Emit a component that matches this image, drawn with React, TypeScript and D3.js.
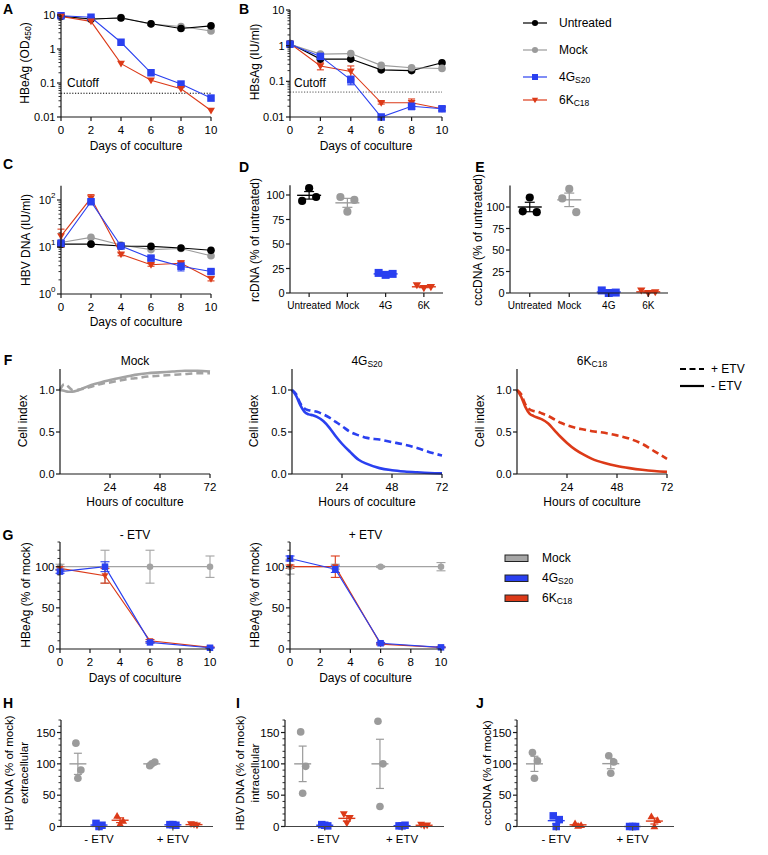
import React from "react";
import * as d3 from "d3";

const FONT = "'Liberation Sans', Arial, Helvetica, sans-serif";
const C_BLACK = "#000000";
const C_GRAY = "#9b9b9b";
const C_BLUE = "#2a40f0";
const C_RED = "#dc3a18";
const C_AXIS = "#1a1a1a";

// ---------------- DATA ----------------
const days = [0, 2, 4, 6, 8, 10];
const aUntreated = [9.2, 7.6, 8.2, 5.5, 4.0, 4.8];
const aMock = [9.0, 7.4, 8.4, 5.4, 4.6, 3.4];
const a4G = [9.5, 8.6, 1.58, 0.2, 0.093, 0.036];
const a6K = [9.0, 6.5, 0.37, 0.12, 0.068, 0.0155];
const cutoffA = 0.05;

const bUntreated = [1.15, 0.42, 0.42, 0.21, 0.2, 0.33];
const bMock = [1.1, 0.58, 0.6, 0.28, 0.24, 0.23];
const b4G = [1.1, 0.5, 0.11, 0.01, 0.02, 0.017];
const b6K = [1.15, 0.27, 0.19, 0.025, 0.025, 0.017];
const b4GErr = [0.1, 0.03, 0.03, 0, 0.004, 0.002];
const b6KErr = [0.1, 0.06, 0.08, 0.002, 0.007, 0.002];
const cutoffB = 0.05;

const cUntreated = [11.5, 11.5, 10.5, 10.3, 9.5, 8.5];
const cMock = [12.5, 16, 11, 8.8, 9.3, 6.5];
const c4G = [12, 92, 10.5, 5.8, 3.9, 3.0];
const c6K = [17, 110, 7, 4.2, 4.5, 2.1];
const cUntreatedErr = [1.5, 0.5, 0, 0, 0, 0];
const c4GErr = [1.5, 8, 0.5, 0.5, 0.8, 0.3];
const c6KErr = [7, 20, 0.5, 0.3, 0.6, 0.2];

const deCategories = ["Untreated", "Mock", "4G", "6K"];
const dUntreated = [94, 107, 98];
const dMock = [98, 83, 95];
const d4G = [20.5, 18.5, 19.5];
const d6K = [8, 5, 6];
const eUntreated = [95, 111, 94];
const eMock = [110, 121, 94];
const e4G = [3, 0, 0.5];
const e6K = [3, 0, 1];

const fHours = [0, 2, 4, 6, 8, 10, 12, 15, 18, 21, 24, 28, 32, 36, 42, 48, 54, 60, 66, 72];
const fMockMinus = [1.0, 0.99, 0.98, 0.98, 0.99, 1.01, 1.03, 1.06, 1.08, 1.1, 1.12, 1.14, 1.16, 1.18, 1.2, 1.21, 1.22, 1.23, 1.23, 1.22];
const fMockPlus = [1.0, 1.07, 1.04, 1.0, 1.0, 1.01, 1.02, 1.04, 1.06, 1.08, 1.09, 1.11, 1.13, 1.14, 1.16, 1.17, 1.18, 1.19, 1.2, 1.2];
const f4GMinus = [1.0, 0.93, 0.82, 0.74, 0.71, 0.7, 0.68, 0.63, 0.55, 0.45, 0.36, 0.26, 0.17, 0.12, 0.07, 0.045, 0.03, 0.02, 0.012, 0.008];
const f4GPlus = [1.0, 0.95, 0.84, 0.78, 0.76, 0.75, 0.74, 0.71, 0.67, 0.62, 0.57, 0.5, 0.46, 0.43, 0.41, 0.38, 0.35, 0.31, 0.26, 0.22];
const f6KMinus = [1.0, 0.92, 0.8, 0.72, 0.69, 0.67, 0.65, 0.6, 0.52, 0.44, 0.37, 0.29, 0.23, 0.18, 0.13, 0.095, 0.07, 0.05, 0.035, 0.025];
const f6KPlus = [1.0, 0.95, 0.83, 0.77, 0.75, 0.74, 0.72, 0.69, 0.65, 0.61, 0.58, 0.55, 0.53, 0.51, 0.49, 0.46, 0.42, 0.36, 0.27, 0.18];

const gDays = [0, 3, 6, 10];
const gMinusMock = [100, 100, 100, 100];
const gMinusMockErr = [3, 20, 20, 13];
const gMinus4G = [94, 100, 8, 1.5];
const gMinus4GErr = [2, 6, 1, 0.5];
const gMinus6K = [98, 89, 10, 2];
const gMinus6KErr = [2, 9, 1.5, 0.5];
const gPlusMock = [100, 100, 100, 100];
const gPlusMockErr = [9, 3, 1, 5];
const gPlus4G = [110, 97, 7, 2];
const gPlus4GErr = [3, 4, 1, 0.5];
const gPlus6K = [100, 100, 6, 2];
const gPlus6KErr = [2, 13, 1, 0.5];

const etvConditions = ["- ETV", "+ ETV"];
const hMinusMock = [133, 90, 77];
const hMinus4G = [5, 2, 0];
const hMinus6K = [17, 9, 4];
const hPlusMock = [97, 103, 100];
const hPlus4G = [3, 2, 3];
const hPlus6K = [4, 2, 3];
const iMinusMock = [151, 96, 53];
const iMinus4G = [3, 1, 2];
const iMinus6K = [20, 14, 5];
const iPlusMock = [168, 100, 32];
const iPlus4G = [1, 2, 1];
const iPlus6K = [3, 2, 1];
const jMinusMock = [118, 105, 77];
const jMinus4G = [17, 11, 0];
const jMinus6K = [5, 2, 1];
const jPlusMock = [113, 103, 85];
const jPlus4G = [0, 0, 0];
const jPlus6K = [16, 10, 0];

// ---------------- HELPERS ----------------
type Shape = "circle" | "square" | "triDown" | "triUp";

function Marker({ shape, x, y, size = 7.5, fill }: { shape: Shape; x: number; y: number; size?: number; fill: string }) {
  const h = size / 2;
  if (shape === "circle") return <circle cx={x} cy={y} r={h * 1.02} fill={fill} />;
  if (shape === "square") return <rect x={x - h} y={y - h} width={size} height={size} fill={fill} />;
  if (shape === "triDown")
    return <polygon points={`${x - h * 1.05},${y - h * 0.75} ${x + h * 1.05},${y - h * 0.75} ${x},${y + h * 1.05}`} fill={fill} />;
  return <polygon points={`${x - h * 1.05},${y + h * 0.75} ${x + h * 1.05},${y + h * 0.75} ${x},${y - h * 1.05}`} fill={fill} />;
}

function ErrBar({ x, y1, y2, color, cap = 3.5, w = 1.1 }: { x: number; y1: number; y2: number; color: string; cap?: number; w?: number }) {
  return (
    <g stroke={color} strokeWidth={w}>
      <line x1={x} x2={x} y1={y1} y2={y2} />
      <line x1={x - cap} x2={x + cap} y1={y1} y2={y1} />
      <line x1={x - cap} x2={x + cap} y1={y2} y2={y2} />
    </g>
  );
}

function YAxis({ x, scale, ticks, labels, minor = [], fontSize = 11, tickLen = 4, minorLen = 2.5 }: any) {
  const [r0, r1] = scale.range();
  return (
    <g>
      <line x1={x} x2={x} y1={r1} y2={r0} stroke={C_AXIS} strokeWidth={1.2} />
      {minor.map((v: number, i: number) => (
        <line key={"m" + i} x1={x - minorLen} x2={x} y1={scale(v)} y2={scale(v)} stroke={C_AXIS} strokeWidth={0.9} />
      ))}
      {ticks.map((v: number, i: number) => (
        <g key={i}>
          <line x1={x - tickLen} x2={x} y1={scale(v)} y2={scale(v)} stroke={C_AXIS} strokeWidth={1.2} />
          <text x={x - tickLen - 1.5} y={scale(v)} textAnchor="end" dominantBaseline="central" fontSize={fontSize}>
            {labels ? labels[i] : String(v)}
          </text>
        </g>
      ))}
    </g>
  );
}

function XAxis({ y, x0, x1, pos, labels, fontSize = 11.5, tickLen = 4, color = C_AXIS }: any) {
  return (
    <g>
      <line x1={x0} x2={x1} y1={y} y2={y} stroke={color} strokeWidth={1.2} />
      {pos.map((p: number, i: number) => (
        <g key={i}>
          <line x1={p} x2={p} y1={y} y2={y + tickLen} stroke={color} strokeWidth={1.2} />
          <text x={p} y={y + 12.5} textAnchor="middle" dominantBaseline="central" fontSize={fontSize}>
            {labels[i]}
          </text>
        </g>
      ))}
    </g>
  );
}

function logMinor(min: number, max: number) {
  const out: number[] = [];
  for (let d = Math.floor(Math.log10(min)); d <= Math.ceil(Math.log10(max)); d++) {
    for (let k = 2; k <= 9; k++) {
      const v = k * Math.pow(10, d);
      if (v > min && v < max) out.push(v);
    }
  }
  return out;
}

function linMinor(step: number, max: number, major: number) {
  return d3.range(0, max + 0.001, step).filter((v) => v % major !== 0);
}

function RotLabel({ x, y, children, fontSize = 12 }: any) {
  return (
    <text transform={`translate(${x},${y}) rotate(-90)`} textAnchor="middle" dominantBaseline="central" fontSize={fontSize}>
      {children}
    </text>
  );
}

function Letter({ x, y, t }: any) {
  return (
    <text x={x} y={y} textAnchor="middle" dominantBaseline="central" fontSize={14} fontWeight="bold">
      {t}
    </text>
  );
}

function Sub({ main, sub, size = 8.5 }: any) {
  return (
    <>
      {main}
      <tspan fontSize={size} dy={3}>
        {sub}
      </tspan>
    </>
  );
}

type Series = { values: number[]; color: string; shape: Shape; err?: number[] };

function Lines({ xs, xScale, yScale, series, lw = 1.1, ms = 7.5, cap = 3.5 }: any) {
  const line = d3.line<number>().x((_, i) => xScale(xs[i])).y((d) => yScale(d));
  return (
    <g>
      {series.map((s: Series, k: number) => (
        <path key={"l" + k} d={line(s.values) || ""} fill="none" stroke={s.color} strokeWidth={lw} />
      ))}
      {series.map((s: Series, k: number) =>
        s.err
          ? s.values.map((v, i) =>
              s.err![i] > 0 ? (
                <ErrBar key={"e" + k + "-" + i} x={xScale(xs[i])} y1={yScale(v + s.err![i])} y2={yScale(Math.max(v - s.err![i], yScale.domain()[0]))} color={s.color} cap={cap} />
              ) : null
            )
          : null
      )}
      {series.map((s: Series, k: number) =>
        s.values.map((v, i) => <Marker key={"p" + k + "-" + i} shape={s.shape} x={xScale(xs[i])} y={yScale(v)} size={ms} fill={s.color} />)
      )}
    </g>
  );
}

function Dots({ x, values, yScale, color, shape, jitter, meanHalf, capHalf, ms = 7.5 }: any) {
  const m = d3.mean(values) as number;
  const sd = d3.deviation(values) || 0;
  const sem = sd / Math.sqrt(values.length);
  return (
    <g>
      {values.map((v: number, i: number) => (
        <Marker key={i} shape={shape} x={x + jitter[i % jitter.length]} y={yScale(v)} size={ms} fill={color} />
      ))}
      <line x1={x - meanHalf} x2={x + meanHalf} y1={yScale(m)} y2={yScale(m)} stroke={color} strokeWidth={1.4} />
      <line x1={x} x2={x} y1={yScale(m + sem)} y2={yScale(Math.max(0, m - sem))} stroke={color} strokeWidth={1.2} />
      <line x1={x - capHalf} x2={x + capHalf} y1={yScale(m + sem)} y2={yScale(m + sem)} stroke={color} strokeWidth={1.2} />
      <line x1={x - capHalf} x2={x + capHalf} y1={yScale(Math.max(0, m - sem))} y2={yScale(Math.max(0, m - sem))} stroke={color} strokeWidth={1.2} />
    </g>
  );
}

// ---------------- PANELS ----------------
function FPanel({ x0, title, minus, plus, color, yLabelX }: any) {
  const xs = d3.scaleLinear().domain([0, 72]).range([x0, x0 + 150]);
  const ys = d3.scaleLinear().domain([0, 1.25]).range([474, 369]);
  const line = d3
    .line<number>()
    .x((_, i) => xs(fHours[i]))
    .y((d) => ys(d))
    .curve(d3.curveMonotoneX);
  return (
    <g>
      <text x={x0 + 75} y={361} textAnchor="middle" dominantBaseline="central" fontSize={12}>
        {title}
      </text>
      <path d={line(plus) || ""} fill="none" stroke={color} strokeWidth={2.6} strokeDasharray="7,4" />
      <path d={line(minus) || ""} fill="none" stroke={color} strokeWidth={2.6} />
      <YAxis x={x0} scale={ys} ticks={[0, 0.5, 1.0]} labels={["0.0", "0.5", "1.0"]} fontSize={11} />
      <XAxis y={474} x0={x0} x1={x0 + 150} pos={[24, 48, 72].map(xs)} labels={["24", "48", "72"]} />
      <text x={x0 + 75} y={502} textAnchor="middle" dominantBaseline="central" fontSize={12}>
        Hours of coculture
      </text>
      <RotLabel x={yLabelX} y={421}>
        Cell index
      </RotLabel>
    </g>
  );
}

function GPanel({ x0, x1, title, series, yLabelX }: any) {
  const xs = d3.scaleLinear().domain([0, 10]).range([x0, x1]);
  const ys = d3.scaleLinear().domain([0, 130]).range([649, 542]);
  return (
    <g>
      <text x={(x0 + x1) / 2} y={535} textAnchor="middle" dominantBaseline="central" fontSize={12}>
        {title}
      </text>
      <Lines xs={gDays} xScale={xs} yScale={ys} series={series} lw={1.2} ms={6.5} cap={4.5} />
      <YAxis x={x0} scale={ys} ticks={[0, 50, 100]} minor={linMinor(10, 130, 50)} fontSize={11.5} />
      <XAxis y={649} x0={x0} x1={x1} pos={days.map(xs)} labels={days.map(String)} />
      <text x={(x0 + x1) / 2} y={678} textAnchor="middle" dominantBaseline="central" fontSize={12}>
        Days of coculture
      </text>
      <RotLabel x={yLabelX} y={595}>
        HBeAg (% of mock)
      </RotLabel>
    </g>
  );
}

function HPanel({ x0, x1, data, triMinus, triPlus, label1, label2, l1x, l2x }: any) {
  const xs = d3.scaleLinear().domain([-0.8, 6.4]).range([x0, x1]);
  const ys = d3.scaleLinear().domain([0, 170]).range([826.5, 720]);
  const colors = [C_GRAY, C_BLUE, C_RED];
  const jit = [[-2, 3, 0], [-3, 3, 0], [-3, 3, 0]];
  return (
    <g>
      {data.map((cond: number[][], c: number) =>
        cond.map((vals: number[], t: number) => (
          <Dots
            key={c + "-" + t}
            x={xs(t + c * 3.5)}
            values={vals}
            yScale={ys}
            color={colors[t]}
            shape={t === 0 ? "circle" : t === 1 ? "square" : c === 0 ? triMinus : triPlus}
            jitter={jit[t]}
            meanHalf={8.5}
            capHalf={4}
            ms={7.5}
          />
        ))
      )}
      <YAxis x={x0} scale={ys} ticks={[0, 50, 100, 150]} minor={linMinor(10, 170, 50)} fontSize={11.5} />
      <XAxis y={826.5} x0={x0} x1={x1} pos={[xs(1), xs(4.5)]} labels={etvConditions} color="#444" />
      <RotLabel x={l1x} y={773} fontSize={11.5}>
        {label1}
      </RotLabel>
      {label2 ? (
        <RotLabel x={l2x} y={773} fontSize={11.5}>
          {label2}
        </RotLabel>
      ) : null}
    </g>
  );
}

function DEPanel({ x0, x1, yMax, pxPerUnit, values, label, labelX }: any) {
  const xs = d3.scalePoint<string>().domain(deCategories).range([x0, x1]).padding(0.5);
  const ys = d3.scaleLinear().domain([0, yMax]).range([293, 293 - pxPerUnit * yMax]);
  const colors = [C_BLACK, C_GRAY, C_BLUE, C_RED];
  const shapes: Shape[] = ["circle", "circle", "square", "triDown"];
  return (
    <g>
      {values.map((vals: number[], i: number) => (
        <Dots key={i} x={xs(deCategories[i])!} values={vals} yScale={ys} color={colors[i]} shape={shapes[i]} jitter={[-7, 0, 7]} meanHalf={12} capHalf={5} ms={8} />
      ))}
      <YAxis x={x0} scale={ys} ticks={[0, 25, 50, 75, 100]} fontSize={11} />
      <XAxis y={293} x0={x0} x1={x1} pos={deCategories.map((c) => xs(c)!)} labels={deCategories} fontSize={10} />
      <RotLabel x={labelX} y={240} fontSize={12}>
        {label}
      </RotLabel>
    </g>
  );
}

export default function App() {
  // A
  const xA = d3.scaleLinear().domain([0, 10]).range([61, 211]);
  const yA = d3.scaleLog().domain([0.01, 10]).range([117, 15]);
  // B
  const xB = d3.scaleLinear().domain([0, 10]).range([290, 442]);
  const yB = d3.scaleLog().domain([0.01, 10]).range([117, 10]);
  // C
  const xC = d3.scaleLinear().domain([0, 10]).range([61, 211]);
  const yC = d3.scaleLog().domain([1, 200]).range([294, 294 - 47 * Math.log10(200)]);

  const seriesA: Series[] = [
    { values: aMock, color: C_GRAY, shape: "circle" },
    { values: aUntreated, color: C_BLACK, shape: "circle" },
    { values: a4G, color: C_BLUE, shape: "square" },
    { values: a6K, color: C_RED, shape: "triDown" },
  ];
  const seriesB: Series[] = [
    { values: bUntreated, color: C_BLACK, shape: "circle" },
    { values: bMock, color: C_GRAY, shape: "circle" },
    { values: b6K, color: C_RED, shape: "triDown", err: b6KErr },
    { values: b4G, color: C_BLUE, shape: "square", err: b4GErr },
  ];
  const seriesC: Series[] = [
    { values: cMock, color: C_GRAY, shape: "circle" },
    { values: cUntreated, color: C_BLACK, shape: "circle", err: cUntreatedErr },
    { values: c6K, color: C_RED, shape: "triDown", err: c6KErr },
    { values: c4G, color: C_BLUE, shape: "square", err: c4GErr },
  ];

  const legendItems = [
    { label: "Untreated", color: C_BLACK, shape: "circle" as Shape, sub: "" },
    { label: "Mock", color: C_GRAY, shape: "circle" as Shape, sub: "" },
    { label: "4G", color: C_BLUE, shape: "square" as Shape, sub: "S20" },
    { label: "6K", color: C_RED, shape: "triDown" as Shape, sub: "C18" },
  ];
  const legendY = [23, 50, 77, 100];

  const gLegend = [
    { label: "Mock", sub: "", color: "#a6a6a6" },
    { label: "4G", sub: "S20", color: C_BLUE },
    { label: "6K", sub: "C18", color: C_RED },
  ];

  return (
    <svg width={768} height={855} fontFamily={FONT} style={{ position: "absolute", left: 0, top: 0, display: "block" }}>
      <rect width={768} height={855} fill="#fff" />

      {/* Panel letters */}
      <Letter x={8} y={9} t="A" />
      <Letter x={244} y={9} t="B" />
      <Letter x={8} y={164} t="C" />
      <Letter x={244} y={167} t="D" />
      <Letter x={480} y={167} t="E" />
      <Letter x={8} y={360} t="F" />
      <Letter x={8} y={535} t="G" />
      <Letter x={8} y={703} t="H" />
      <Letter x={238} y={703} t="I" />
      <Letter x={480} y={703} t="J" />

      {/* Panel A */}
      <line x1={xA(0)} x2={xA(10)} y1={yA(cutoffA)} y2={yA(cutoffA)} stroke="#000" strokeWidth={1} strokeDasharray="1.2,1.6" />
      <text x={67} y={83} fontSize={12} dominantBaseline="central">
        Cutoff
      </text>
      <Lines xs={days} xScale={xA} yScale={yA} series={seriesA} />
      <YAxis x={61} scale={yA} ticks={[0.01, 0.1, 1, 10]} labels={["0.01", "0.1", "1", "10"]} minor={logMinor(0.01, 10)} />
      <XAxis y={117} x0={61} x1={211} pos={days.map(xA)} labels={days.map(String)} />
      <text x={136} y={146} textAnchor="middle" dominantBaseline="central" fontSize={12}>
        Days of coculture
      </text>
      <RotLabel x={25} y={63}>
        HBeAg (OD<tspan fontSize={8.5} dy={3}>450</tspan>
        <tspan dy={-3}>)</tspan>
      </RotLabel>

      {/* Panel B */}
      <line x1={xB(0)} x2={xB(10)} y1={yB(cutoffB)} y2={yB(cutoffB)} stroke="#555" strokeWidth={1} strokeDasharray="1.2,1.6" />
      <text x={294} y={83} fontSize={12} dominantBaseline="central">
        Cutoff
      </text>
      <Lines xs={days} xScale={xB} yScale={yB} series={seriesB} />
      <YAxis x={290} scale={yB} ticks={[0.01, 0.1, 1, 10]} labels={["0.01", "0.1", "1", "10"]} minor={logMinor(0.01, 10)} />
      <XAxis y={117} x0={290} x1={442} pos={days.map(xB)} labels={days.map(String)} />
      <text x={366} y={146} textAnchor="middle" dominantBaseline="central" fontSize={12}>
        Days of coculture
      </text>
      <RotLabel x={255} y={62}>
        HBsAg (IU/ml)
      </RotLabel>

      {/* Legend top right */}
      {legendItems.map((it, i) => (
        <g key={i}>
          <line x1={523} x2={547} y1={legendY[i]} y2={legendY[i]} stroke={it.color} strokeWidth={1.2} />
          <Marker shape={it.shape} x={535} y={legendY[i]} size={6} fill={it.color} />
          <text x={559} y={legendY[i]} dominantBaseline="central" fontSize={12}>
            {it.sub ? <Sub main={it.label} sub={it.sub} /> : it.label}
          </text>
        </g>
      ))}

      {/* Panel C */}
      <Lines xs={days} xScale={xC} yScale={yC} series={seriesC} />
      <YAxis
        x={61}
        scale={yC}
        ticks={[1, 10, 100]}
        labels={[0, 1, 2].map((p) => (
          <>
            10
            <tspan fontSize={8} dy={-5}>
              {p}
            </tspan>
          </>
        ))}
        minor={logMinor(1, 200)}
      />
      <XAxis y={294} x0={61} x1={211} pos={days.map(xC)} labels={days.map(String)} />
      <text x={136} y={322} textAnchor="middle" dominantBaseline="central" fontSize={12}>
        Days of coculture
      </text>
      <RotLabel x={26} y={240}>
        HBV DNA (IU/ml)
      </RotLabel>

      {/* Panel D */}
      <DEPanel x0={290} x1={443} yMax={110} pxPerUnit={0.98} values={[dUntreated, dMock, d4G, d6K]} label="rcDNA (% of untreated)" labelX={255} />
      {/* Panel E */}
      <DEPanel x0={510} x1={668} yMax={125} pxPerUnit={0.86} values={[eUntreated, eMock, e4G, e6K]} label="cccDNA (% of untreated)" labelX={478} />

      {/* Panel F */}
      <FPanel x0={60} title="Mock" minus={fMockMinus} plus={fMockPlus} color="#a3a3a3" yLabelX={23} />
      <FPanel x0={292} title={<Sub main="4G" sub="S20" />} minus={f4GMinus} plus={f4GPlus} color={C_BLUE} yLabelX={254} />
      <FPanel x0={517} title={<Sub main="6K" sub="C18" />} minus={f6KMinus} plus={f6KPlus} color={C_RED} yLabelX={480} />
      <g>
        <line x1={680} x2={704} y1={369} y2={369} stroke="#000" strokeWidth={2.2} strokeDasharray="6,3.5" />
        <text x={711} y={369} dominantBaseline="central" fontSize={12}>
          + ETV
        </text>
        <line x1={680} x2={704} y1={386} y2={386} stroke="#000" strokeWidth={2.2} />
        <text x={711} y={386} dominantBaseline="central" fontSize={12}>
          - ETV
        </text>
      </g>

      {/* Panel G */}
      <GPanel
        x0={60}
        x1={210}
        title="- ETV"
        yLabelX={26}
        series={[
          { values: gMinusMock, color: "#a3a3a3", shape: "circle", err: gMinusMockErr },
          { values: gMinus6K, color: C_RED, shape: "triDown", err: gMinus6KErr },
          { values: gMinus4G, color: C_BLUE, shape: "square", err: gMinus4GErr },
        ]}
      />
      <GPanel
        x0={290}
        x1={441}
        title="+ ETV"
        yLabelX={255}
        series={[
          { values: gPlusMock, color: "#a3a3a3", shape: "circle", err: gPlusMockErr },
          { values: gPlus6K, color: C_RED, shape: "triDown", err: gPlus6KErr },
          { values: gPlus4G, color: C_BLUE, shape: "square", err: gPlus4GErr },
        ]}
      />
      {gLegend.map((it, i) => (
        <g key={i}>
          <rect x={505} y={555 + i * 20} width={23} height={6.5} fill={it.color} stroke="#222" strokeWidth={1} />
          <text x={542} y={558 + i * 20} dominantBaseline="central" fontSize={12}>
            {it.sub ? <Sub main={it.label} sub={it.sub} /> : it.label}
          </text>
        </g>
      ))}

      {/* Panels H, I, J */}
      <HPanel
        x0={61}
        x1={213}
        data={[
          [hMinusMock, hMinus4G, hMinus6K],
          [hPlusMock, hPlus4G, hPlus6K],
        ]}
        triMinus="triUp"
        triPlus="triDown"
        label1="HBV DNA (% of mock)"
        label2="extracellular"
        l1x={9}
        l2x={24}
      />
      <HPanel
        x0={285}
        x1={444}
        data={[
          [iMinusMock, iMinus4G, iMinus6K],
          [iPlusMock, iPlus4G, iPlus6K],
        ]}
        triMinus="triDown"
        triPlus="triDown"
        label1="HBV DNA (% of mock)"
        label2="intracellular"
        l1x={240}
        l2x={255}
      />
      <HPanel
        x0={517}
        x1={674}
        data={[
          [jMinusMock, jMinus4G, jMinus6K],
          [jPlusMock, jPlus4G, jPlus6K],
        ]}
        triMinus="triUp"
        triPlus="triUp"
        label1="cccDNA (% of mock)"
        l1x={487}
      />
    </svg>
  );
}
